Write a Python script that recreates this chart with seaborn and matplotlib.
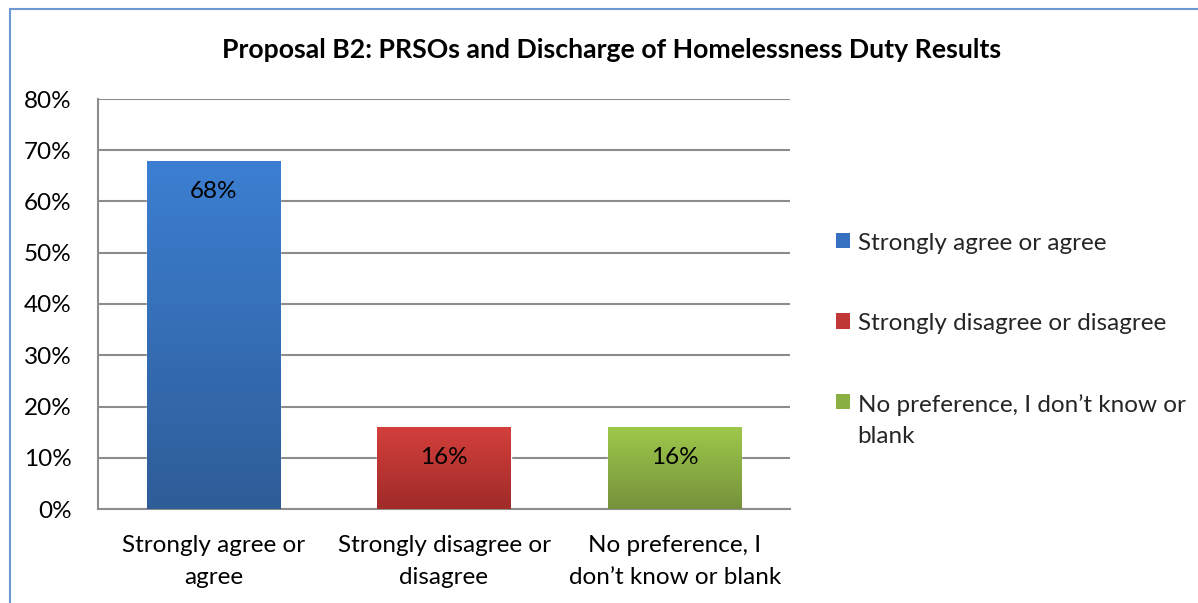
import numpy as np
import pandas as pd
import matplotlib
matplotlib.use("Agg")
import matplotlib.pyplot as plt
from matplotlib.patches import Rectangle, Patch
from matplotlib.colors import LinearSegmentedColormap
import seaborn as sns

categories = ["Strongly agree or agree",
              "Strongly disagree or disagree",
              "No preference, I don\u2019t know or blank"]
tick_labels = ["Strongly agree or\nagree",
               "Strongly disagree or\ndisagree",
               "No preference, I\ndon\u2019t know or blank"]
legend_labels = ["Strongly agree or agree",
                 "Strongly disagree or disagree",
                 "No preference, I don\u2019t know or\nblank"]
values = [0.68, 0.16, 0.16]
value_labels = ["68%", "16%", "16%"]
title = "Proposal B2: PRSOs and Discharge of Homelessness Duty Results"

top_colors = ["#3c7fd2", "#d33f3b", "#9dc84b"]
bottom_colors = ["#2e5d98", "#a02b29", "#76923a"]
mid_colors = ["#3670c0", "#c03836", "#8ab043"]

FS = 17.5

sns.set_theme(style="white")
plt.rcParams["font.family"] = ["Lato", "DejaVu Sans"]

df = pd.DataFrame({"cat": categories, "val": values})

fig = plt.figure(figsize=(11.98, 6.03), dpi=100)
ax = fig.add_axes([98/1198, 1-509/603, (790-98)/1198, (509-99)/603])

sns.barplot(data=df, x="cat", y="val", hue="cat", palette=mid_colors,
            width=0.577, legend=False, ax=ax, zorder=2)

# gradient fill
for i, p in enumerate(ax.patches):
    x0, y0 = p.get_x(), p.get_y()
    w, h = p.get_width(), p.get_height()
    cmap = LinearSegmentedColormap.from_list("g", [bottom_colors[i], top_colors[i]])
    grad = np.linspace(0, 1, 256).reshape(-1, 1)
    im = ax.imshow(grad, cmap=cmap, origin="lower", aspect="auto",
                   extent=[x0, x0 + w, y0, y0 + h], zorder=3)
    im.set_clip_path(p)
    ax.annotate(value_labels[i], (x0 + w/2, y0 + h), xytext=(0, -22),
                textcoords="offset points", ha="center", va="center",
                fontsize=FS, color="black", zorder=5)

ax.set_xlim(-0.5, 2.5)
ax.set_ylim(0, 0.8)
ax.set_yticks(np.arange(0, 0.81, 0.1))
ax.set_yticklabels([f"{int(round(v*100))}%" for v in np.arange(0, 0.81, 0.1)])
ax.set_xticks(range(3))
ax.set_xticklabels(tick_labels, linespacing=1.65)
ax.tick_params(axis="y", length=0, pad=19, labelsize=FS, labelcolor="black")
ax.tick_params(axis="x", length=0, pad=18.5, labelsize=FS, labelcolor="black")
ax.set_xlabel("")
ax.set_ylabel("")
ax.yaxis.grid(True, color="#8c8c8c", linewidth=1.5, zorder=0)
ax.set_axisbelow(True)
for s in ["top", "right"]:
    ax.spines[s].set_visible(False)
ax.spines["left"].set_color("#8c8c8c")
ax.spines["left"].set_linewidth(1.5)
ax.spines["bottom"].set_color("#8c8c8c")
ax.spines["bottom"].set_linewidth(1.5)

fig.text(612/1198, 1-50/603, title, ha="center", va="center",
         fontsize=19.2, fontweight="bold", color="black")

handles = [Patch(facecolor=c, edgecolor="none") for c in mid_colors]
leg = fig.legend(handles, legend_labels, loc="upper left",
                 bbox_to_anchor=(826/1198, 1-223/603), frameon=False,
                 fontsize=FS, handlelength=0.6, handleheight=0.6,
                 handletextpad=0.3, labelspacing=2.45, borderaxespad=0)
for t in leg.get_texts():
    t.set_linespacing(1.6)
try:
    for col in leg._legend_handle_box.get_children():
        for hp in col.get_children():
            hp.align = "top"
except Exception:
    pass

# outer border
fig.patches.append(Rectangle((9.5/1198, -0.1), 1.2, 1 - 9.5/603 + 0.1,
                             transform=fig.transFigure, fill=False,
                             edgecolor="#6d97cf", linewidth=1.5))

fig.savefig("out.png", dpi=100)
